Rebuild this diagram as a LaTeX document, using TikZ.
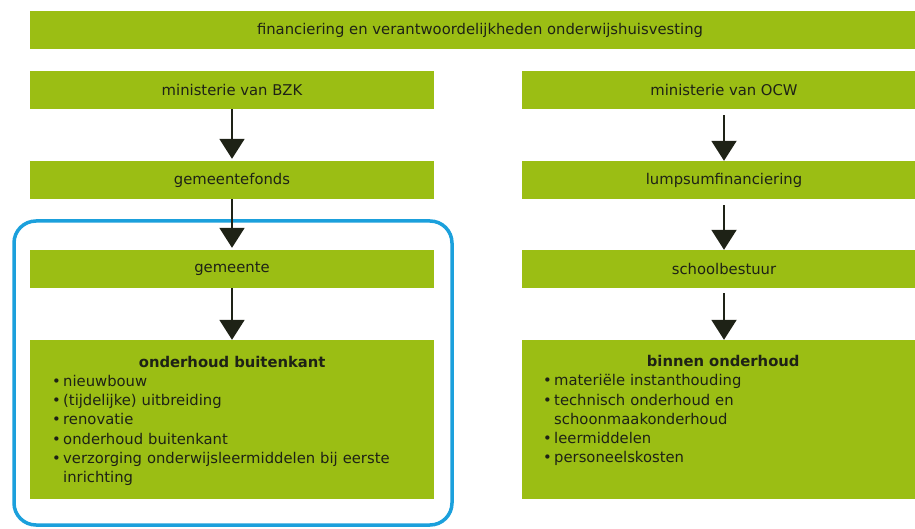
\documentclass[tikz,border=0pt]{standalone}
\usepackage{fontspec}
\setmainfont{DejaVu Sans}
\usetikzlibrary{arrows.meta}
\definecolor{balk}{RGB}{155,190,20}
\definecolor{kader}{RGB}{27,160,220}
\definecolor{tekst}{RGB}{30,34,22}
\newcommand{\punt}{\makebox[11pt][l]{•}}

\begin{document}
\begin{tikzpicture}[x=1pt,y=-1pt,
		balkje/.style={fill=balk,minimum width=404pt,minimum height=38pt,inner sep=0pt,text=tekst,font=\fontsize{14.8}{19.3}\selectfont},
		blok/.style={fill=balk,minimum width=404pt,minimum height=159pt,inner sep=0pt},
		lijst/.style={anchor=north west,inner sep=0pt,text width=360pt,align=left,text=tekst,font=\fontsize{14.8}{19.3}\selectfont},
		pijl/.style={line width=2pt,draw=tekst,-{Triangle[width=25pt,length=20pt]}}]
		\useasboundingbox (0,0) rectangle (915,529);
		\clip (0,0) rectangle (915,529);
		\node[draw=kader,line width=3.5pt,rounded corners=22pt,minimum width=438pt,minimum height=304pt] (zone) at (233,373) {};
		
		\node[balkje,minimum width=900pt] (titel) at (480,30) {financiering en verantwoordelijkheden onderwijshuisvesting};
		\node[balkje] (bzk) at (232,90) {ministerie van BZK};
		\node[balkje] (fonds) at (232,180) {gemeentefonds};
		\node[balkje] (gem) at (232,269) {gemeente};
		\node[blok] (buiten) at (232,419.5) {};
		\node[balkje] (ocw) at (724,90) {ministerie van OCW};
		\node[balkje] (lump) at (724,180) {lumpsumfinanciering};
		\node[balkje] (bestuur) at (724,269) {schoolbestuur};
		\node[blok] (binnen) at (724,419.5) {};
		
		\node[lijst] (buitentxt) at (52,355.6) {\makebox[360pt]{\bfseries onderhoud buitenkant}\\
			\punt nieuwbouw\\
			\punt (tijdelijke) uitbreiding\\
			\punt renovatie\\
			\punt onderhoud buitenkant\\
			\punt verzorging onderwijsleermiddelen bij eerste\\
			\hspace*{11pt}inrichting};
		\node[lijst] (binnentxt) at (543,355) {\makebox[360pt]{\bfseries binnen onderhoud}\\
			\punt materiële instanthouding\\
			\punt technisch onderhoud en\\
			\hspace*{11pt}schoonmaakonderhoud\\
			\punt leermiddelen\\
			\punt personeelskosten};
		
		\draw[pijl,shorten >=2pt] (bzk) -- (fonds);
		\draw[pijl,shorten >=2pt] (fonds) -- (gem);
		\draw[pijl] (gem) -- (buiten);
		\draw[pijl,shorten <=6pt] (ocw) -- (lump);
		\draw[pijl,shorten <=6pt] (lump) -- (bestuur);
		\draw[pijl,shorten <=5pt] (bestuur) -- (binnen);
		\end{tikzpicture}
\end{document}
